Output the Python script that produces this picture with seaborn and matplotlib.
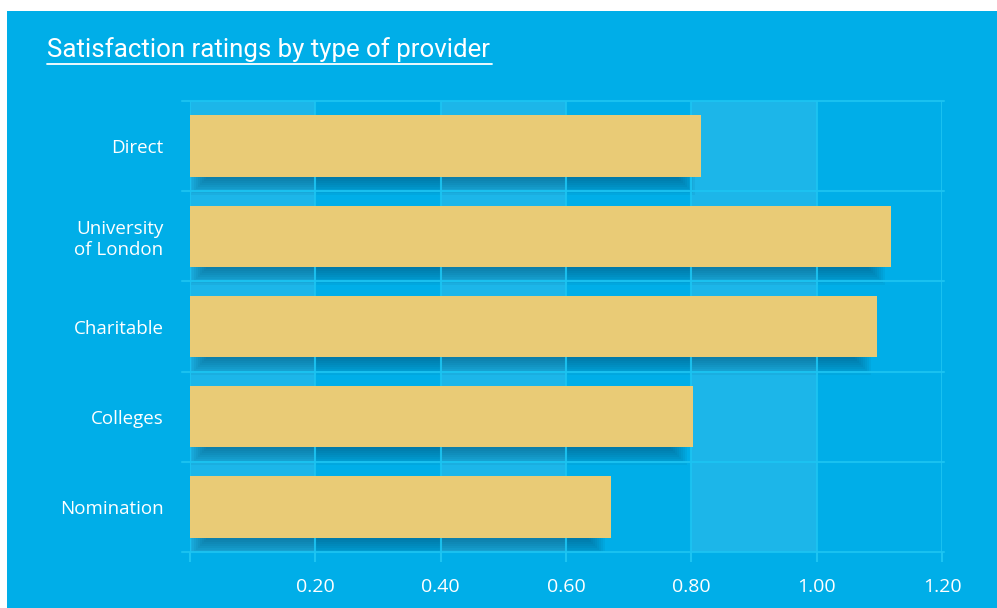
import matplotlib
matplotlib.use("Agg")
import matplotlib.pyplot as plt
from matplotlib.patches import Rectangle
from matplotlib.lines import Line2D
import seaborn as sns
import pandas as pd

# ---- data ----
categories = ["Direct", "University\nof London", "Charitable", "Colleges", "Nomination"]
ratings = [0.815, 1.118, 1.097, 0.802, 0.672]
x_ticks = [0.2, 0.4, 0.6, 0.8, 1.0, 1.2]
x_tick_labels = ["0.20", "0.40", "0.60", "0.80", "1.00", "1.20"]
title = "Satisfaction ratings by type of provider"

BG = "#00AEE8"
BAND = "#1CB6E9"
GRID = "#1CC4F2"
BAR = "#E9CB76"
SHADOW = "#003a5c"

sns.set_theme(style="white")
plt.rcParams["font.family"] = ["Open Sans", "DejaVu Sans"]

W, H = 997, 608
fig = plt.figure(figsize=(W / 100, H / 100), dpi=100)
fig.patch.set_facecolor(BG)
# white margins at top and left
fig.add_artist(Rectangle((0, 1 - 11 / H), 1, 11 / H, transform=fig.transFigure,
                         facecolor="white", edgecolor="none", zorder=5))
fig.add_artist(Rectangle((0, 0), 7 / W, 1, transform=fig.transFigure,
                         facecolor="white", edgecolor="none", zorder=5))

ax = fig.add_axes([190 / W, 1 - 552 / H, (942 - 190) / W, (552 - 101) / H])
ax.set_facecolor(BG)

df = pd.DataFrame({"category": categories, "rating": ratings})

sns.barplot(data=df, x="rating", y="category", orient="h", color=BAR,
            saturation=1, width=0.68, ax=ax, zorder=3)
bars = list(ax.patches)
for p in bars:
    p.set_edgecolor("none")

# alternating bands
for i, (a, b) in enumerate(zip([0] + x_ticks[:-1], x_ticks)):
    if i % 2 == 0:
        ax.axvspan(a, b, color=BAND, zorder=0, lw=0)

ax.set_xlim(0, 1.2)
ax.set_ylim(len(categories) - 0.5, -0.5)

# soft drop shadows derived from the bar geometry
inv = ax.transData.inverted()
n_layers = 9
blur = 8.0
for p in bars:
    (xa, ya), (xb, yb) = ax.transData.transform(
        [(p.get_x(), p.get_y()), (p.get_x() + p.get_width(), p.get_y() + p.get_height())])
    L, R = min(xa, xb), max(xa, xb)
    Bt, T = min(ya, yb), max(ya, yb)       # display coords: Bt is lower edge on screen
    core = (L + 8, R - 14, Bt - 10, T - 10)
    for k in range(n_layers):
        e = -blur + 2 * blur * k / (n_layers - 1)
        x0, x1, y0, y1 = core[0] - e, core[1] + e, core[2] - e, core[3] + e
        (dx0, dy0), (dx1, dy1) = inv.transform([(x0, y0), (x1, y1)])
        ax.add_patch(Rectangle((min(dx0, dx1), min(dy0, dy1)), abs(dx1 - dx0), abs(dy1 - dy0),
                               facecolor=SHADOW, edgecolor="none", alpha=0.06, zorder=0.5))

# grid lines
for xv in [0] + x_ticks:
    ax.axvline(xv, color=GRID, lw=1.5, zorder=1, alpha=0.9)
xr = (-8 / 626, 1.2 + 2 / 626)
for k in range(len(categories) + 1):
    yv = k - 0.5
    ax.add_line(Line2D(xr, [yv, yv], color=GRID, lw=1.5, zorder=1, clip_on=False, alpha=0.9))

ax.set_xticks([0] + x_ticks)
ax.set_xticklabels([""] + x_tick_labels)
ax.tick_params(axis="x", colors=GRID, length=7, width=1.5, direction="out", pad=12,
               labelcolor="white", labelsize=14, bottom=True)
ax.tick_params(axis="y", length=0, pad=19, labelcolor="white", labelsize=13.5)
for t in ax.get_yticklabels():
    t.set_multialignment("right")
ax.set_xlabel("")
ax.set_ylabel("")
for s in ax.spines.values():
    s.set_visible(False)

# title with underline
fig.text(47 / W, 1 - 57 / H, title, color="white", fontsize=18.6,
         family=["Roboto", "DejaVu Sans"], ha="left", va="baseline")
fig.add_artist(Line2D([47 / W, 492 / W], [1 - 63.5 / H, 1 - 63.5 / H],
                      transform=fig.transFigure, color="white", lw=1.3))

fig.savefig("out.png", dpi=100, facecolor=fig.get_facecolor())
